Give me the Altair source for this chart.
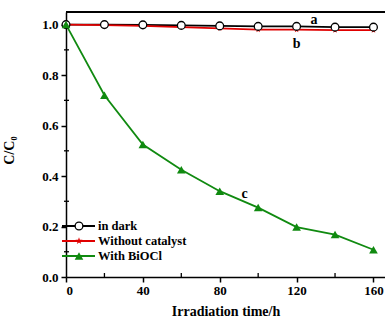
import altair as alt
import pandas as pd

time_h = [0, 20, 40, 60, 80, 100, 120, 140, 160]
in_dark = [1.0, 1.0, 0.999, 0.997, 0.995, 0.993, 0.993, 0.99, 0.99]
without_cat = [1.0, 0.998, 0.995, 0.99, 0.985, 0.98, 0.98, 0.978, 0.978]
with_biocl = [1.0, 0.72, 0.525, 0.425, 0.34, 0.275, 0.198, 0.168, 0.108]

series_names = ["in dark", "Without catalyst", "With BiOCl"]
series_colors = ["#000000", "#e00000", "#108a10"]
STAR = "M0,-1.1L0.26,-0.36L1.05,-0.34L0.42,0.14L0.65,0.9L0,0.45L-0.65,0.9L-0.42,0.14L-1.05,-0.34L-0.26,-0.36Z"

curve_labels = ["a", "b", "c"]
label_x = [129, 120, 93]
label_y = [1.02, 0.925, 0.33]

x_ticks = [0, 40, 80, 120, 160]
x_minor = [20, 60, 100, 140]
y_ticks = [0.0, 0.2, 0.4, 0.6, 0.8, 1.0]
y_minor = [0.1, 0.3, 0.5, 0.7, 0.9]

FONT = "Liberation Serif"
W, H = 319, 265

rows = []
for name, vals in zip(series_names, [in_dark, without_cat, with_biocl]):
    for t, v in zip(time_h, vals):
        rows.append({"t": t, "v": v, "s": name})
df = pd.DataFrame(rows)

xs = alt.Scale(domain=[0, 166], nice=False)
ys = alt.Scale(domain=[0, 1.05], nice=False)
color = alt.Scale(domain=series_names, range=series_colors)

xax = alt.Axis(values=x_ticks, format="d", labelFont=FONT, labelFontWeight="bold", labelFontSize=13,
               labelColor="black", tickColor="black", domainColor="black", domainWidth=1.5, tickWidth=1.5,
               tickSize=5, grid=False, title="Irradiation time/h", titleFont=FONT, titleFontSize=14,
               titleFontWeight="bold", titleColor="black", titlePadding=7, labelPadding=2)
yax = alt.Axis(values=y_ticks, format=".1f", labelFont=FONT, labelFontWeight="bold", labelFontSize=13,
               labelColor="black", tickColor="black", domainColor="black", domainWidth=1.5, tickWidth=1.5,
               tickSize=5, grid=False, title="C/C₀", titleFont=FONT, titleFontSize=14,
               titleFontWeight="bold", titleColor="black", titleX=-50, titleY=138, labelPadding=3)

lines = alt.Chart(df).mark_line(strokeWidth=1.8).encode(
    x=alt.X("t:Q", scale=xs, axis=xax),
    y=alt.Y("v:Q", scale=ys, axis=yax),
    color=alt.Color("s:N", scale=color, legend=None),
    detail="s:N",
)

def pts(name, **kw):
    return alt.Chart(df[df.s == name]).mark_point(filled=True, opacity=1, **kw).encode(
        x=alt.X("t:Q", scale=xs), y=alt.Y("v:Q", scale=ys))

red_pts = pts("Without catalyst", shape=STAR, color="#e00000", size=30)
dark_pts = pts("in dark", shape="circle", fill="white", stroke="black", strokeWidth=1.3, size=60)
green_pts = pts("With BiOCl", shape="triangle-up", color="#108a10", size=75)

lab_df = pd.DataFrame({"lab": curve_labels, "x": label_x, "y": label_y})
labels = alt.Chart(lab_df).mark_text(font=FONT, fontWeight="bold", fontSize=14, color="black").encode(
    x=alt.X("x:Q", scale=xs), y=alt.Y("y:Q", scale=ys), text="lab:N")

xmin_df = pd.DataFrame({"t": x_minor})
xminor = alt.Chart(xmin_df).mark_rule(color="black", strokeWidth=1.3).encode(
    x=alt.X("t:Q", scale=xs), y=alt.value(H - 4), y2=alt.value(H))
ymin_df = pd.DataFrame({"v": y_minor})
yminor = alt.Chart(ymin_df).mark_rule(color="black", strokeWidth=1.3).encode(
    y=alt.Y("v:Q", scale=ys), x=alt.value(-2), x2=alt.value(3))
top_border = alt.Chart(xmin_df).mark_rule(color="black", strokeWidth=1.5).encode(
    x=alt.value(0), x2=alt.value(W + 5), y=alt.value(0))

# legend (one row per series)
leg_layers = []
marker_kw = [
    dict(shape="circle", fill="white", stroke="black", strokeWidth=1.3, size=60),
    dict(shape=STAR, color="#e00000", size=45),
    dict(shape="triangle-up", color="#108a10", size=75),
]
for i, (name, col, mk) in enumerate(zip(series_names, series_colors, marker_kw)):
    ldf = pd.DataFrame({"s": [name]})
    yy = 214 + 15 * i
    c = alt.Chart(ldf)
    leg_layers.append(c.mark_rule(strokeWidth=1.8, color=col).encode(
        x=alt.value(-4), x2=alt.value(29), y=alt.value(yy)))
    leg_layers.append(c.mark_point(filled=True, opacity=1, **mk).encode(x=alt.value(13), y=alt.value(yy)))
    leg_layers.append(c.mark_text(font=FONT, fontWeight="bold", fontSize=12.5, align="left", baseline="middle",
                                  color="black").encode(x=alt.value(32), y=alt.value(yy), text="s:N"))

chart = alt.layer(
    lines, red_pts, dark_pts, green_pts, labels, xminor, yminor, top_border, *leg_layers
).properties(
    width=W, height=H,
    padding={"left": 66, "top": 12, "right": 0, "bottom": 43},
    autosize=alt.AutoSizeParams(type="none"),
    background="white",
).configure_view(stroke=None)

chart.save("out.html", embed_options={"renderer": "svg", "actions": False})
